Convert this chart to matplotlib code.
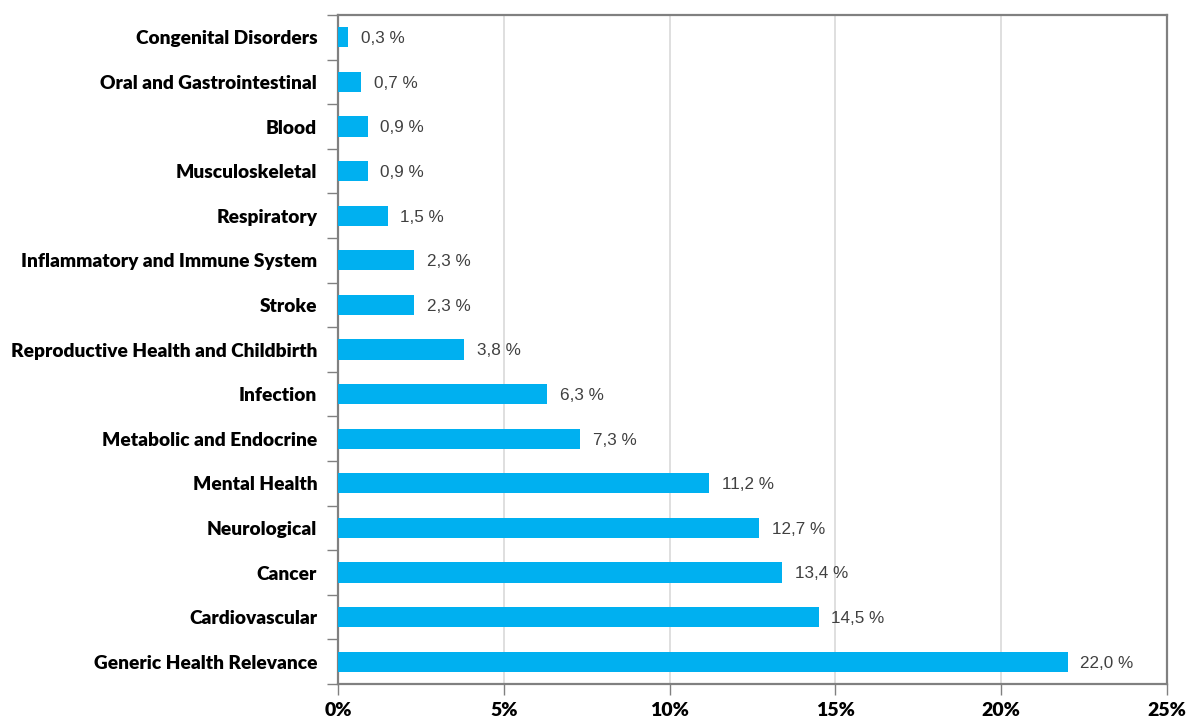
import matplotlib.pyplot as plt
import numpy as np

categories = ['Generic Health Relevance', 'Cardiovascular', 'Cancer', 'Neurological',
              'Mental Health', 'Metabolic and Endocrine', 'Infection',
              'Reproductive Health and Childbirth', 'Stroke',
              'Inflammatory and Immune System', 'Respiratory', 'Musculoskeletal',
              'Blood', 'Oral and Gastrointestinal', 'Congenital Disorders']
shares = [22.0, 14.5, 13.4, 12.7, 11.2, 7.3, 6.3, 3.8, 2.3, 2.3, 1.5, 0.9, 0.9, 0.7, 0.3]
xticks = [0, 5, 10, 15, 20, 25]

fig = plt.figure(figsize=(11.94, 7.19), dpi=100)
ax = fig.add_axes([338/1194, 1 - 684/719, (1167-338)/1194, (684-15)/719])

y = np.arange(len(categories))
ax.barh(y, shares, height=0.45, color='#00B0F0', zorder=3)
for yi, v in zip(y, shares):
    ax.text(v + 0.38, yi - 0.03, ('%.1f %%' % v).replace('.', ','), va='center', ha='left',
            fontsize=12.3, color='#404040', family='Liberation Sans')

ax.set_xlim(0, 25)
ax.set_ylim(-0.5, len(categories) - 0.5)
ax.set_xticks(xticks)
ax.set_xticklabels(['%d%%' % t for t in xticks], fontsize=14, fontweight='heavy', family='Lato')
ax.set_yticks(y)
ax.set_yticklabels(categories, fontsize=13.8, fontweight='heavy', family='Lato')
ax.set_yticks(np.arange(len(categories) + 1) - 0.5, minor=True)
ax.tick_params(axis='y', which='major', length=0, pad=15)
ax.tick_params(axis='y', which='minor', length=8, color='#808080', width=1)
ax.tick_params(axis='x', length=8, color='#808080', width=1, pad=5)
ax.grid(axis='x', color='#d9d9d9', linewidth=1.2, zorder=0)
for s in ax.spines.values():
    s.set_color('#808080')
    s.set_linewidth(1.6)

fig.savefig('out.png', dpi=100)
